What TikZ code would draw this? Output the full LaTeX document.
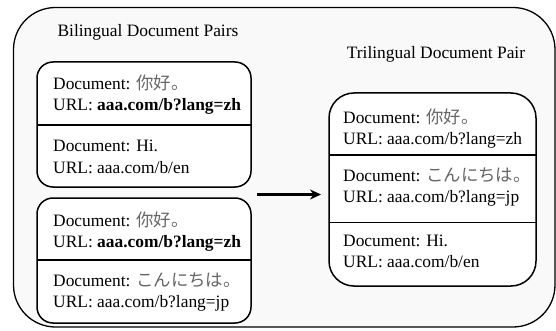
\documentclass[tikz,border=0pt]{standalone}
\usepackage{fontspec}
\setmainfont{Liberation Serif}
\newfontfamily\cjk{Noto Sans CJK SC}
\usetikzlibrary{arrows.meta}
\definecolor{bgfill}{HTML}{F9F9F9}
\newcommand{\cj}[1]{{\cjk\color{black!60}#1}}
\tikzset{
  outerbox/.style={draw, line width=1.3pt, rounded corners=42pt, fill=bgfill},
  docbox/.style={draw, line width=1.5pt, fill=white, rectangle, inner sep=0pt, outer sep=0pt},
  divider/.style={line width=1.5pt},
  txt/.style={anchor=base west, inner sep=0pt, font=\rmfamily\fontsize{17.4}{21}\selectfont},
  title/.style={anchor=base, inner sep=0pt, font=\rmfamily\fontsize{17.4}{21}\selectfont},
  flow/.style={line width=2.8pt, -{Stealth[length=11pt,width=10pt]}}
}
\begin{document}
\begin{tikzpicture}[x=1pt,y=-1pt]
\useasboundingbox (0,0) rectangle (556,331);
\path[outerbox] (13.5,7.5) rectangle (555,327);

\node[title] (t1) at (148,36.5) {Bilingual Document Pairs};
\node[title] (t2) at (436,59) {Trilingual Document Pair};

% box 1
\node[docbox, rounded corners=16pt, minimum width=214pt, minimum height=125pt] (b1) at (144,124.5) {};
\draw[divider] (b1.west |- 0,125) -- (b1.east |- 0,125);
\node[txt] (b1a) at (53,90) {Document: \cj{你好。}};
\node[txt] (b1b) at (53,111) {URL: \textbf{aaa.com/b?lang=zh}};
\node[txt] (b1c) at (53,152) {Document: Hi.};
\node[txt] (b1d) at (53,173) {URL: aaa.com/b/en};

% box 2
\node[docbox, rounded corners=16pt, minimum width=214pt, minimum height=125pt] (b2) at (144,260.5) {};
\draw[divider] (b2.west |- 0,260) -- (b2.east |- 0,260);
\node[txt] (b2a) at (53,226.5) {Document: \cj{你好。}};
\node[txt] (b2b) at (53,247.5) {URL: \textbf{aaa.com/b?lang=zh}};
\node[txt] (b2c) at (53,286.5) {Document: \cj{こんにちは。}};
\node[txt] (b2d) at (53,307.5) {URL: aaa.com/b?lang=jp};

% box 3
\node[docbox, rounded corners=25pt, minimum width=207pt, minimum height=193pt] (b3) at (432.5,189.5) {};
\draw[divider] (b3.west |- 0,155) -- (b3.east |- 0,155);
\draw[divider] (b3.west |- 0,222.5) -- (b3.east |- 0,222.5);
\node[txt] (b3a) at (343,124) {Document: \cj{你好。}};
\node[txt] (b3b) at (343,145) {URL: aaa.com/b?lang=zh};
\node[txt] (b3c) at (343,181) {Document: \cj{こんにちは。}};
\node[txt] (b3d) at (343,202) {URL: aaa.com/b?lang=jp};
\node[txt] (b3e) at (343,246) {Document: Hi.};
\node[txt] (b3f) at (343,267) {URL: aaa.com/b/en};

% arrow
\coordinate (as) at (257,194.5);
\coordinate (ae) at (321,194.5);
\draw[flow] (as) -- (ae);
\end{tikzpicture}
\end{document}
